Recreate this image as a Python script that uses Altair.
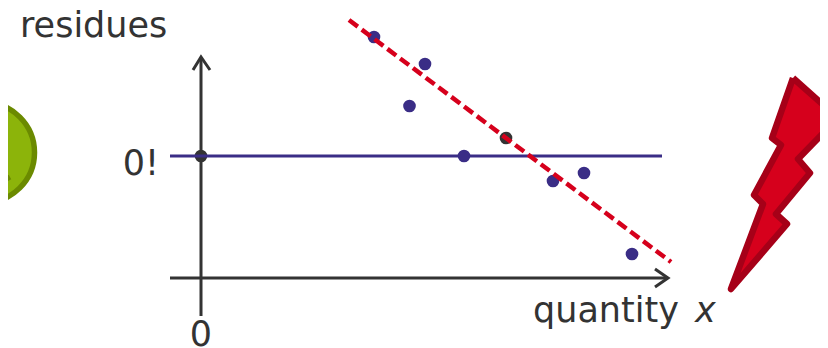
import altair as alt
import pandas as pd

# Units are the chart's own: origin of the two axes at (0, 0)
points_x = [173, 224, 208.5, 263, 352, 383, 431]
points_y = [241, 214, 172, 122, 97, 105, 24]
black_x = [0, 305]
black_y = [122, 140]
zero_x = [-31, 461]
zero_y = [122, 122]
fit_x = [148, 470]
fit_y = [258, 16]
yaxis_x = [0, 0]
yaxis_y = [-38, 221]
yhead_x = [-8, 0, 9]
yhead_y = [208, 221, 208]
xaxis_x = [-31, 467]
xaxis_y = [0, 0]
xhead_x = [454, 467, 454]
xhead_y = [9, 0, -9]
bolt_x = [592, 637, 597, 609, 575, 586, 530, 562, 553, 580, 571]
bolt_y = [200, 160, 119, 105, 64, 54, -11, 74, 83, 133, 140]
face_x = [-216.5]
face_y = [125.5]
eye_x = [-203]
eye_y = [140]
mouth_x = [-191, -198, -206]
mouth_y = [101, 97, 95]
labels = ["residues", "quantity", "x", "0!", "0"]
label_x = [-181, 332, 494, -42, 0]
label_y = [241, -44, -44, 103, -68]
label_align = ["left", "left", "left", "right", "center"]
label_style = ["normal", "normal", "italic", "normal", "normal"]

X = alt.X("x:Q", axis=None, scale=alt.Scale(domain=[-193, 619]))
Y = alt.Y("y:Q", axis=None, scale=alt.Scale(domain=[-70, 270]))


def frame(xs, ys):
    return pd.DataFrame({"x": xs, "y": ys, "i": range(len(xs))})


def path(xs, ys, **kw):
    return alt.Chart(frame(xs, ys)).mark_line(**kw).encode(x=X, y=Y, order="i:Q")


def dots(xs, ys, color, size):
    return alt.Chart(frame(xs, ys)).mark_circle(color=color, opacity=1, size=size).encode(x=X, y=Y)


INK = "#333333"
BLUE = "#3a2d86"
RED = "#d6001c"

face = alt.Chart(frame(face_x, face_y)).mark_point(
    filled=False, fill="#8cb40a", fillOpacity=1, stroke="#6b8a00", strokeWidth=5.5, opacity=1, size=10000
).encode(x=X, y=Y)
eye = dots(eye_x, eye_y, "#6b8a00", 225)
mouth = path(mouth_x, mouth_y, color="#6b8a00", strokeWidth=5)
bolt = path(bolt_x + bolt_x[:1], bolt_y + bolt_y[:1], fill=RED, stroke="#a60018", strokeWidth=6.5, strokeJoin="round")

layers = [
    face, eye, mouth, bolt,
    path(yaxis_x, yaxis_y, color=INK, strokeWidth=3),
    path(yhead_x, yhead_y, color=INK, strokeWidth=3),
    path(xaxis_x, xaxis_y, color=INK, strokeWidth=3),
    path(xhead_x, xhead_y, color=INK, strokeWidth=3),
    dots(black_x, black_y, INK, 160),
    path(zero_x, zero_y, color=BLUE, strokeWidth=3),
    dots(points_x, points_y, BLUE, 160),
    path(fit_x, fit_y, color=RED, strokeWidth=4.5, strokeDash=[11, 5]),
]
for t, lx, ly, a, s in zip(labels, label_x, label_y, label_align, label_style):
    layers.append(
        alt.Chart(pd.DataFrame({"x": [lx], "y": [ly], "t": [t]}))
        .mark_text(font="DejaVu Sans", fontSize=35, fontStyle=s, color=INK, align=a, baseline="alphabetic")
        .encode(x=X, y=Y, text="t:N")
    )

chart = (
    alt.layer(*layers)
    .properties(width=812, height=340, padding=0, autosize=alt.AutoSizeParams(type="none"))
    .configure_view(stroke=None)
)
chart.save("out.html", embed_options={"renderer": "svg", "actions": False})
